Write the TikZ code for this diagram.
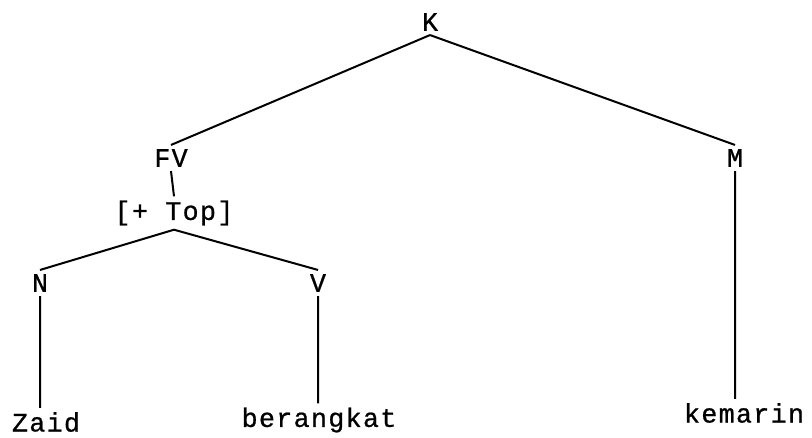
\documentclass[tikz,border=0pt]{standalone}
\usepackage{fontspec}
\setmonofont[LetterSpace=5, FakeBold=0.8]{Liberation Mono}
\begin{document}
\begin{tikzpicture}[x=0.75pt, y=-0.75pt,
        every node/.style={font=\ttfamily\fontsize{20}{22}\selectfont, inner sep=3pt},
        branch/.style={line width=1.5pt}]
        \useasboundingbox (0, 0) rectangle (812, 437);

        \node (K) at (430, 22) {K};
        \node (FV) at (171, 158) {FV};
        \node (M) at (735, 158) {M};
        \node (top) at (174, 213) {[+ Top]};
        \node (N) at (40, 283) {N};
        \node (V) at (318, 283) {V};
        \node (zaid) at (46, 422) {Zaid};
        \node (berangkat) at (319, 420) {berangkat};
        \node (kemarin) at (744, 413) {kemarin};

        \draw[branch]
            (K.south) -- (FV.north)
            (K.south) -- (M.north)
            (FV.south) -- (top.north)
            (top.south) -- (N.north)
            (top.south) -- (V.north)
            (N.south) -- (N.south |- zaid.north)
            (V.south) -- (V.south |- berangkat.north)
            (M.south) -- (M.south |- kemarin.north)
        ;
    \end{tikzpicture}
\end{document}
